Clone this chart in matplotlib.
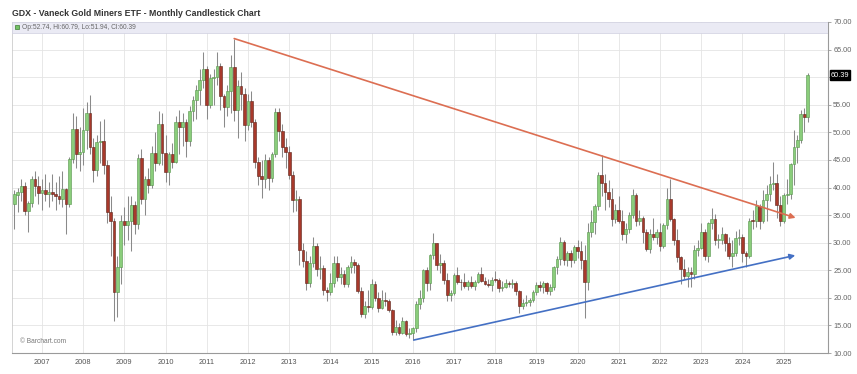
import numpy as np
import pandas as pd
import matplotlib
matplotlib.use('Agg')
import matplotlib.pyplot as plt
from matplotlib.patches import Rectangle

plt.rcParams['font.family'] = ['Liberation Sans', 'DejaVu Sans']

# monthly candles, first one is May 2006
start_month = '2006-05'

opens = [
    37.0, 38.6, 39.2, 40.3, 35.8, 37.2, 41.5, 40.2,                      # 2006
    39.0, 39.5, 38.8, 39.2, 38.9, 38.4, 38.0, 39.7, 37.0, 45.2, 50.6, 46.0,  # 2007
    46.4, 50.5, 53.5, 47.3, 43.2, 48.2, 48.5, 44.0, 35.5, 34.0, 21.0, 25.5,  # 2008
    33.9, 33.2, 34.0, 36.9, 33.3, 45.3, 37.9, 41.5, 40.5, 46.2, 44.5, 51.5,  # 2009
    46.2, 42.9, 46.0, 44.6, 51.8, 51.0, 51.9, 48.4, 53.8, 55.9, 57.6, 59.4,  # 2010
    61.5, 55.0, 59.9, 60.1, 62.0, 56.5, 54.6, 57.5, 61.9, 54.0, 58.4, 56.9,  # 2011
    51.4, 55.6, 51.8, 44.6, 42.0, 41.5, 44.9, 41.7, 46.0, 53.7, 50.3, 47.3,  # 2012
    46.4, 42.3, 37.8, 37.9, 28.6, 26.6, 22.6, 26.3, 29.4, 25.3, 25.4, 21.5,  # 2013
    21.1, 22.6, 26.3, 23.7, 24.4, 22.5, 25.6, 26.5, 26.0, 21.3, 17.0, 18.5,  # 2014
    18.4, 22.5, 20.0, 18.2, 19.6, 19.5, 17.8, 13.8, 14.8, 13.7, 15.8, 13.5,  # 2015
    13.7, 14.5, 18.9, 19.9, 25.1, 22.7, 27.7, 30.0, 26.0, 26.4, 23.3, 20.5,  # 2016
    20.9, 24.1, 22.9, 22.8, 22.2, 22.8, 22.2, 22.9, 24.3, 23.0, 22.5, 22.4,  # 2017
    23.3, 23.2, 21.8, 22.0, 22.7, 22.5, 22.6, 21.2, 18.5, 19.0, 19.3, 19.6,  # 2018
    21.1, 22.4, 22.0, 22.7, 21.3, 22.0, 25.5, 27.1, 30.1, 26.8, 28.1, 26.9,  # 2019
    29.3, 28.4, 26.9, 22.9, 32.0, 33.7, 36.7, 42.3, 40.8, 39.2, 37.9, 34.3,  # 2020
    36.0, 34.0, 31.6, 32.5, 35.0, 38.7, 34.0, 34.4, 32.0, 28.8, 31.5, 31.1,  # 2021
    32.0, 29.4, 33.2, 38.0, 34.3, 30.4, 27.4, 25.3, 24.0, 24.7, 24.4, 28.6,  # 2022
    29.1, 32.0, 27.5, 33.5, 34.3, 30.5, 30.5, 31.6, 30.0, 27.5, 28.1, 30.9,  # 2023
    31.0, 28.2, 27.6, 34.0, 33.9, 36.6, 34.0, 37.8, 38.9, 40.6, 40.8, 36.9,  # 2024
    34.0, 38.6, 38.9, 44.2, 47.4, 48.6, 53.4, 52.74,                     # 2025
]
highs = [
    39.5, 40.0, 41.5, 41.0, 37.5, 42.0, 43.0, 42.0,
    41.5, 42.5, 41.0, 42.5, 41.0, 42.0, 43.0, 40.0, 45.5, 53.5, 53.0, 51.0,
    54.5, 55.5, 56.7, 49.0, 49.5, 52.0, 52.5, 45.0, 38.5, 34.5, 27.5, 35.0,
    36.5, 38.5, 38.5, 37.5, 46.0, 47.0, 42.0, 43.5, 47.5, 50.0, 53.8, 53.5,
    49.5, 46.5, 48.0, 53.0, 54.0, 53.5, 52.5, 54.7, 56.5, 58.5, 61.5, 64.5,
    62.0, 60.5, 61.5, 64.5, 62.5, 57.0, 58.5, 64.0, 66.98, 59.5, 61.0, 58.0,
    57.0, 57.5, 52.5, 45.5, 45.0, 46.0, 45.5, 46.5, 54.5, 54.5, 51.5, 49.0,
    47.5, 43.0, 39.5, 38.5, 30.0, 28.5, 27.5, 31.0, 30.0, 27.5, 26.0, 22.0,
    24.5, 27.5, 27.5, 25.5, 25.0, 26.0, 27.5, 27.0, 26.3, 22.0, 19.5, 21.5,
    23.5, 23.0, 21.0, 21.5, 21.0, 19.8, 18.0, 16.0, 15.5, 16.5, 16.0, 14.5,
    14.8, 19.5, 21.5, 25.3, 25.5, 28.0, 31.8, 30.0, 28.0, 26.8, 24.5, 21.5,
    24.5, 25.5, 23.5, 24.5, 23.2, 24.0, 23.3, 24.6, 25.6, 23.7, 23.5, 23.7,
    24.8, 23.6, 23.0, 23.5, 23.0, 23.5, 23.0, 21.5, 19.8, 20.5, 20.0, 21.5,
    22.8, 23.0, 23.0, 22.8, 22.5, 25.7, 27.5, 30.95, 30.5, 28.5, 28.6, 29.5,
    30.5, 30.3, 29.6, 33.5, 36.0, 37.0, 42.9, 45.9, 42.5, 41.3, 40.0, 37.0,
    38.5, 36.0, 33.5, 35.5, 39.8, 39.0, 36.0, 34.8, 32.5, 32.5, 34.5, 32.5,
    33.5, 33.5, 40.0, 41.6, 34.5, 32.5, 27.6, 27.0, 25.5, 25.5, 29.5, 30.5,
    33.5, 32.5, 33.8, 36.3, 35.2, 31.5, 32.8, 31.8, 31.0, 30.5, 32.2, 32.5,
    31.5, 28.5, 34.5, 36.0, 37.8, 37.0, 39.5, 40.5, 42.0, 44.6, 42.5, 38.5,
    39.0, 41.5, 44.5, 50.5, 49.5, 54.0, 54.5, 60.79,
]
lows = [
    32.5, 35.5, 37.5, 35.0, 32.0, 36.5, 38.5, 37.0,
    36.0, 37.5, 36.5, 37.5, 36.0, 37.0, 36.5, 31.5, 36.5, 44.5, 43.5, 43.0,
    44.0, 47.0, 46.0, 41.0, 42.0, 44.5, 42.5, 33.5, 27.5, 15.8, 16.5, 22.5,
    29.5, 30.5, 28.5, 31.5, 32.5, 37.0, 35.0, 39.0, 40.0, 43.0, 44.0, 44.0,
    41.0, 40.5, 43.5, 44.5, 46.0, 47.5, 45.5, 47.5, 52.0, 52.5, 55.0, 58.0,
    52.5, 54.5, 55.0, 58.5, 54.0, 51.0, 53.0, 53.5, 52.0, 49.0, 54.0, 48.5,
    50.5, 51.0, 43.5, 40.5, 38.1, 40.0, 39.5, 41.0, 45.5, 48.5, 45.5, 43.5,
    41.5, 35.5, 35.8, 26.0, 25.5, 21.5, 22.0, 25.5, 24.0, 23.5, 20.5, 19.5,
    20.5, 22.0, 23.0, 22.5, 22.0, 22.0, 24.5, 24.5, 20.8, 16.5, 16.3, 17.5,
    18.0, 19.5, 17.5, 18.0, 18.5, 17.5, 13.3, 13.2, 13.2, 13.5, 13.0, 12.8,
    12.4, 13.8, 18.0, 19.2, 21.2, 21.5, 27.0, 25.0, 24.5, 22.5, 19.5, 19.5,
    20.5, 22.5, 21.5, 21.8, 21.5, 21.8, 21.5, 22.6, 22.8, 22.3, 22.0, 21.3,
    22.8, 21.0, 21.3, 21.8, 22.0, 21.7, 20.5, 17.3, 17.9, 18.5, 18.5, 19.2,
    20.5, 21.3, 20.9, 20.7, 20.6, 21.5, 24.3, 26.0, 26.0, 25.8, 25.6, 26.3,
    27.2, 25.3, 16.4, 21.5, 31.0, 31.5, 36.0, 38.5, 36.0, 36.5, 33.0, 33.5,
    33.5, 30.5, 30.0, 31.8, 34.5, 33.0, 33.2, 30.0, 28.5, 28.2, 30.5, 29.8,
    28.5, 29.0, 32.5, 34.0, 29.5, 26.5, 22.5, 23.5, 21.9, 22.0, 23.5, 27.5,
    28.9, 26.8, 26.5, 32.5, 29.5, 29.0, 29.8, 28.5, 27.0, 25.6, 27.5, 29.5,
    26.5, 25.6, 27.3, 32.5, 32.8, 32.5, 33.5, 33.9, 37.5, 39.5, 34.5, 33.0,
    33.5, 37.0, 38.0, 40.5, 44.5, 48.0, 50.0, 51.94,
]
closes = [
    38.8, 39.2, 40.3, 35.8, 37.2, 41.5, 40.2, 39.0,
    39.5, 38.8, 39.2, 38.9, 38.4, 38.0, 39.7, 37.0, 45.2, 50.6, 46.0, 46.4,
    50.5, 53.5, 47.3, 43.2, 48.2, 48.5, 44.0, 35.5, 34.0, 21.0, 25.5, 33.9,
    33.2, 34.0, 36.9, 33.3, 45.3, 37.9, 41.5, 40.5, 46.2, 44.5, 51.5, 46.2,
    42.9, 46.0, 44.6, 51.8, 51.0, 51.9, 48.4, 53.8, 55.9, 57.6, 59.4, 61.5,
    55.0, 59.9, 60.1, 62.0, 56.5, 54.6, 57.5, 61.9, 54.0, 58.4, 56.9, 51.4,
    55.6, 51.8, 44.6, 42.0, 41.5, 44.9, 41.7, 46.0, 53.7, 50.3, 47.3, 46.4,
    42.3, 37.8, 37.9, 28.6, 26.6, 22.6, 26.3, 29.4, 25.3, 25.4, 21.5, 21.1,
    22.6, 26.3, 23.7, 24.4, 22.5, 25.6, 26.5, 26.0, 21.3, 17.0, 18.5, 18.4,
    22.5, 20.0, 18.2, 19.6, 19.5, 17.8, 13.8, 14.8, 13.7, 15.8, 13.5, 13.7,
    14.5, 18.9, 19.9, 25.1, 22.7, 27.7, 30.0, 26.0, 26.4, 23.3, 20.5, 20.9,
    24.1, 22.9, 22.8, 22.2, 22.8, 22.2, 22.9, 24.3, 23.0, 22.5, 22.4, 23.3,
    23.2, 21.8, 22.0, 22.7, 22.5, 22.6, 21.2, 18.5, 19.0, 19.3, 19.6, 21.1,
    22.4, 22.0, 22.7, 21.3, 22.0, 25.5, 27.1, 30.1, 26.8, 28.1, 26.9, 29.3,
    28.4, 26.9, 22.9, 32.0, 33.7, 36.7, 42.3, 40.8, 39.2, 37.9, 34.3, 36.0,
    34.0, 31.6, 32.5, 35.0, 38.7, 34.0, 34.4, 32.0, 28.8, 31.5, 31.1, 32.0,
    29.4, 33.2, 38.0, 34.3, 30.4, 27.4, 25.3, 24.0, 24.7, 24.4, 28.6, 29.1,
    32.0, 27.5, 33.5, 34.3, 30.5, 30.5, 31.6, 30.0, 27.5, 28.1, 30.9, 31.0,
    28.2, 27.6, 34.0, 33.9, 36.6, 34.0, 37.8, 38.9, 40.6, 40.8, 36.9, 34.0,
    38.6, 38.9, 44.2, 47.4, 48.6, 53.4, 52.7, 60.39,
]

year_labels = [str(y) for y in range(2007, 2026)]
y_ticks = np.arange(10, 71, 5)

# hand-drawn trend lines: (date, price)
resistance = [('2011-09-01', 67.0), ('2025-04-15', 34.5)]
support = [('2016-01-10', 12.35), ('2025-04-12', 27.7)]

title = 'GDX - Vaneck Gold Miners ETF - Monthly Candlestick Chart'

m0 = pd.Timestamp(start_month)


def month_pos(d):
    t = pd.Timestamp(d)
    return (t.year - m0.year) * 12 + (t.month - m0.month) + (t.day - 1) / 30.0


o = np.array(opens)
h = np.array(highs)
l = np.array(lows)
c = np.array(closes)
x = np.arange(len(c))

fig = plt.figure(figsize=(8.57, 3.74), dpi=100)
ax = fig.add_axes([12 / 857, 1 - 353 / 374, (828 - 12) / 857, (353 - 22) / 374])
ax.set_xlim(-0.7, 236.9)
ax.set_ylim(10, 70)

up = c >= o
body_bottom = np.minimum(o, c)
body_h = np.maximum(np.abs(c - o), 0.15)
ax.vlines(x, l, h, color='#8a8a8a', lw=0.75, zorder=2)
ax.bar(x, body_h, bottom=body_bottom, width=0.8,
       color=np.where(up, '#8acd7b', '#a8392b'),
       edgecolor=np.where(up, '#56944b', '#5c2218'),
       linewidth=0.4, zorder=3)

# trend lines
for pts, col in [(resistance, '#dc6e52'), (support, '#4470c4')]:
    (d0, p0), (d1, p1) = pts
    ax.annotate('', xy=(month_pos(d1), p1), xytext=(month_pos(d0), p0),
                arrowprops=dict(arrowstyle='-|>', color=col, lw=1.2,
                                mutation_scale=8, shrinkA=0, shrinkB=0),
                zorder=5)

# axes styling
jan_pos = [month_pos(f'{y}-01-01') for y in year_labels]
ax.set_xticks(jan_pos)
ax.set_xticklabels(year_labels)
ax.set_yticks(y_ticks)
# the last-price tag sits on top of the 60.00 label in the original
ax.set_yticklabels(['' if abs(v - c[-1]) < 1.5 else f'{v:.2f}' for v in y_ticks])
ax.yaxis.tick_right()
ax.grid(color='#e4e4e4', lw=0.6, zorder=0)
ax.set_axisbelow(True)
ax.tick_params(axis='x', length=0, pad=4.5, labelsize=5.3, labelcolor='#555555')
ax.tick_params(axis='y', length=2.5, pad=1.2, labelsize=5.3, labelcolor='#666666',
               color='#999999', width=0.6)
for side in ['bottom', 'right']:
    ax.spines[side].set_color('#9a9a9a')
    ax.spines[side].set_linewidth(0.8)
ax.spines['left'].set_color('#cccccc')
ax.spines['left'].set_linewidth(0.6)
ax.spines['top'].set_visible(False)

# header band with OHLC of the last candle
ax.add_patch(Rectangle((0, 0.967), 1, 0.033, transform=ax.transAxes,
                       facecolor='#eaeaf4', edgecolor='#d0d0e0', lw=0.5, zorder=4))
ax.plot([0.006], [0.9835], marker='s', ms=3, color='#74c266', mec='#3d7d33',
        mew=0.5, transform=ax.transAxes, zorder=6, clip_on=False)
ax.text(0.012, 0.9835,
        f'Op:{o[-1]:.2f}, Hi:{h[-1]:.2f}, Lo:{l[-1]:.2f}, Cl:{c[-1]:.2f}',
        transform=ax.transAxes, fontsize=4.8, color='#666666', va='center', zorder=6)

# last price tag
ax.text(1.0035, c[-1], f'{c[-1]:.2f}', transform=ax.get_yaxis_transform(),
        fontsize=5.3, color='white', va='center', ha='left', zorder=10, clip_on=False,
        bbox=dict(boxstyle='square,pad=0.15', facecolor='black', edgecolor='black'))

ax.text(0.01, 0.025, '\u00a9 Barchart.com', transform=ax.transAxes,
        fontsize=4.8, color='#777777', va='bottom')

fig.text(12 / 857, 1 - 14 / 374, title, fontsize=6.3, fontweight='bold',
         color='#333333', va='center')

fig.savefig('out.png', dpi=100)
